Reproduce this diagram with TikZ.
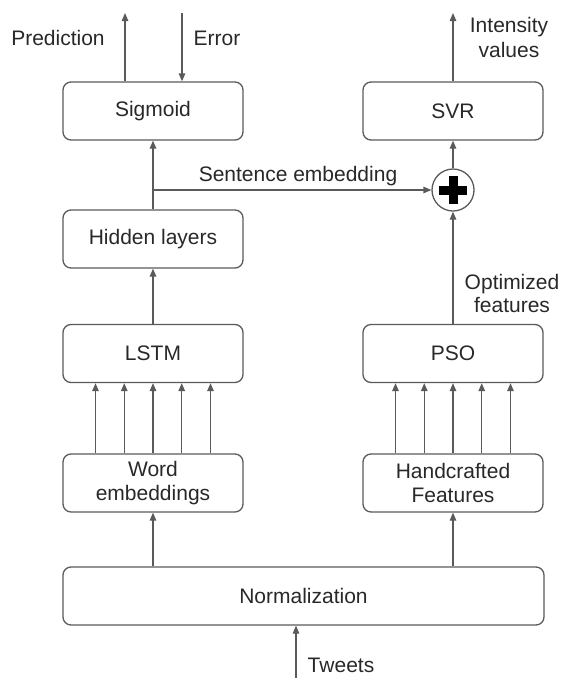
\documentclass[tikz,border=0pt]{standalone}
\usepackage{fontspec}
\setmainfont{Liberation Sans}
\usetikzlibrary{arrows.meta}
\definecolor{linec}{RGB}{90,90,90}
\definecolor{txtc}{RGB}{40,40,40}
\begin{document}
\begin{tikzpicture}[x=1pt,y=-1pt,
  box/.style={draw=linec, line width=1.3pt, rounded corners=8pt, minimum width=180pt, minimum height=58pt, align=center, text=txtc, font=\fontsize{21}{24}\selectfont, inner sep=0pt},
  lbl/.style={text=txtc, font=\fontsize{21}{24}\selectfont, align=center, inner sep=0pt},
  arr/.style={draw=linec, line width=1.3pt, -{Triangle[length=8pt,width=6.5pt]}}]
\useasboundingbox (0,0) rectangle (563,678);
\node[box] (sig) at (153,111) {Sigmoid};
\node[box] (svr) at (453,111) {SVR};
\node[box] (hid) at (153,239) {Hidden layers};
\node[box] (lstm) at (153,353.5) {LSTM};
\node[box] (pso) at (453,353.5) {PSO};
\node[box] (we) at (153,483) {Word\\embeddings};
\node[box] (hf) at (453,483) {Handcrafted\\Features};
\node[box, minimum width=481pt] (norm) at (303.5,596) {Normalization};
\node[circle, draw=linec, line width=1.3pt, minimum size=42pt, inner sep=0pt] (add) at (453,190) {};
\fill[black] ([xshift=-14pt,yshift=-4.5pt]add.center) rectangle ([xshift=14pt,yshift=4.5pt]add.center);
\fill[black] ([xshift=-4.5pt,yshift=-14pt]add.center) rectangle ([xshift=4.5pt,yshift=14pt]add.center);
% top arrows
\coordinate (pT) at (125,13);
\coordinate (eT) at (182,13);
\coordinate (iT) at (453,13);
\draw[arr] ([xshift=-28pt]sig.north) -- (pT);
\draw[arr] (eT) -- (eT |- sig.north);
\draw[arr] (svr.north) -- (iT);
% sentence embedding
\draw[arr] (hid.north) -- (sig.south);
\coordinate (j) at (hid.north |- add);
\draw[arr] (j) -- (add.west);
\draw[arr] (add.north) -- (svr.south);
\draw[arr] (pso.north) -- (add.south);
\draw[arr] (lstm.north) -- (hid.south);
% multi arrows
\foreach \d in {-57.5,-28.75,0,28.75,57.5} {
  \draw[arr] ([xshift=\d pt]we.north) -- ([xshift=\d pt]lstm.south);
  \draw[arr] ([xshift=\d pt]hf.north) -- ([xshift=\d pt]pso.south);
}
\draw[arr] (norm.north -| we) -- (we.south);
\draw[arr] (norm.north -| hf) -- (hf.south);
\coordinate (tw) at (296,678);
\draw[arr] (tw) -- (tw |- norm.south);
% labels
\node[lbl] (lpred) at (58,38) {Prediction};
\node[lbl] (lerr) at (217,38) {Error};
\node[lbl, font=\fontsize{21}{25}\selectfont] (lint) at (509,37.5) {Intensity\\values};
\node[lbl] (lsent) at (298,176) {Sentence embedding};
\node[lbl, font=\fontsize{21}{23}\selectfont] (lopt) at (512,293.5) {Optimized\\features};
\node[lbl] (ltw) at (341,665) {Tweets};
\end{tikzpicture}
\end{document}
